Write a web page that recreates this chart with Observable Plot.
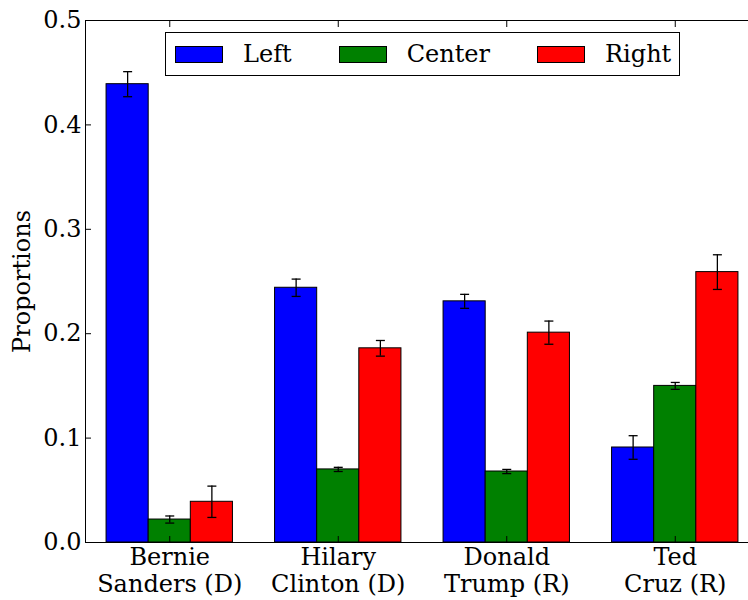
<!DOCTYPE html>
<html>
<head>
<meta charset="utf-8">
<script src="https://cdn.jsdelivr.net/npm/d3@7"></script>
<script src="https://cdn.jsdelivr.net/npm/@observablehq/plot@0.6"></script>
<style>
  html, body { margin: 0; padding: 0; background: #fff; }
  #wrap { position: relative; width: 748px; height: 600px; overflow: hidden; font-family: "DejaVu Serif", serif; }
  #wrap svg { display: block; overflow: hidden; }
  #legend { position: absolute; left: 165px; top: 32px; width: 515px; height: 44px; box-sizing: border-box;
    border: 1px solid #000; background: #fff; display: flex; align-items: center; padding-left: 9px;
    font-family: "DejaVu Serif", serif; font-size: 24px; color: #000; }
  .item { display: flex; align-items: center; margin-right: 47px; }
  .item:last-child { margin-right: 0; }
  .swatch { width: 48px; height: 17px; box-sizing: border-box; border: 1px solid #000; margin-right: 20px; }
</style>
</head>
<body>
<div id="wrap"></div>
<script>
const candidates = ["Bernie\nSanders (D)", "Hilary\nClinton (D)", "Donald\nTrump (R)", "Ted\nCruz (R)"];
const groups = ["Left", "Center", "Right"];
const colors = ["#0000ff", "#008000", "#ff0000"];
const leftValues = [0.439, 0.244, 0.231, 0.091];
const centerValues = [0.022, 0.070, 0.068, 0.150];
const rightValues = [0.039, 0.186, 0.201, 0.259];
const leftErrors = [0.012, 0.0083, 0.0067, 0.0113];
const centerErrors = [0.0034, 0.002, 0.002, 0.0033];
const rightErrors = [0.015, 0.0075, 0.0111, 0.0166];
const yTicks = [0.0, 0.1, 0.2, 0.3, 0.4, 0.5];

const values = [leftValues, centerValues, rightValues];
const errors = [leftErrors, centerErrors, rightErrors];
const barW = 0.25;
const table = [];
candidates.forEach((c, i) => groups.forEach((g, j) => {
  table.push({
    i, group: g, value: values[j][i], err: errors[j][i],
    x1: i + (j - 1.5) * barW, x2: i + (j - 0.5) * barW, xc: i + (j - 1) * barW
  });
}));
const groupIndex = candidates.map((c, i) => i);

const cap = { draw(ctx) { ctx.moveTo(-4.5, 0); ctx.lineTo(4.5, 0); } };

const chart = Plot.plot({
  width: 748, height: 600,
  marginTop: 20, marginBottom: 58, marginLeft: 85, marginRight: -11,
  style: { fontFamily: "DejaVu Serif", fontSize: "24px", color: "black", background: "white", overflow: "hidden" },
  x: { domain: [-0.5, 3.5], axis: null },
  y: { domain: [0, 0.5], axis: null },
  color: { domain: groups, range: colors },
  marks: [
    Plot.rectY(table, { x1: "x1", x2: "x2", y: "value", fill: "group", stroke: "black", strokeWidth: 1 }),
    Plot.ruleX(table, { x: "xc", y1: d => d.value - d.err, y2: d => d.value + d.err, stroke: "black", strokeWidth: 1.3 }),
    Plot.dot(table, { x: "xc", y: d => d.value + d.err, symbol: cap, fill: "none", stroke: "black", strokeWidth: 1.3 }),
    Plot.dot(table, { x: "xc", y: d => d.value - d.err, symbol: cap, fill: "none", stroke: "black", strokeWidth: 1.3 }),
    Plot.frame({ stroke: "black", strokeWidth: 1 }),
    Plot.axisY(yTicks, { tickSize: 6, dx: 6, tickFormat: () => "", label: null, stroke: "black" }),
    Plot.axisY(yTicks, { tickSize: 0, tickPadding: 4, tickFormat: d3.format(".1f"), fontSize: 24, label: null, fill: "black" }),
    Plot.axisX(groupIndex, { anchor: "top", tickSize: 6, dy: 6, tickFormat: () => "", label: null, stroke: "black" }),
    Plot.axisX(groupIndex, { anchor: "bottom", tickSize: 6, dy: -6, tickFormat: () => "", label: null, stroke: "black" }),
    Plot.axisX(groupIndex, { anchor: "bottom", tickSize: 0, tickPadding: 3, tickFormat: i => candidates[i], fontSize: 24, lineHeight: 1.13, label: null, fill: "black" }),
    Plot.text(["Proportions"], { frameAnchor: "left", textAnchor: "middle", rotate: -90, dx: -63, fontSize: 24, fill: "black" })
  ]
});

const wrap = document.getElementById("wrap");
wrap.appendChild(chart);

const legend = document.createElement("div");
legend.id = "legend";
groups.forEach((g, j) => {
  const item = document.createElement("div");
  item.className = "item";
  const sw = document.createElement("span");
  sw.className = "swatch";
  sw.style.background = colors[j];
  const label = document.createElement("span");
  label.textContent = g;
  item.appendChild(sw);
  item.appendChild(label);
  legend.appendChild(item);
});
wrap.appendChild(legend);
</script>
</body>
</html>
